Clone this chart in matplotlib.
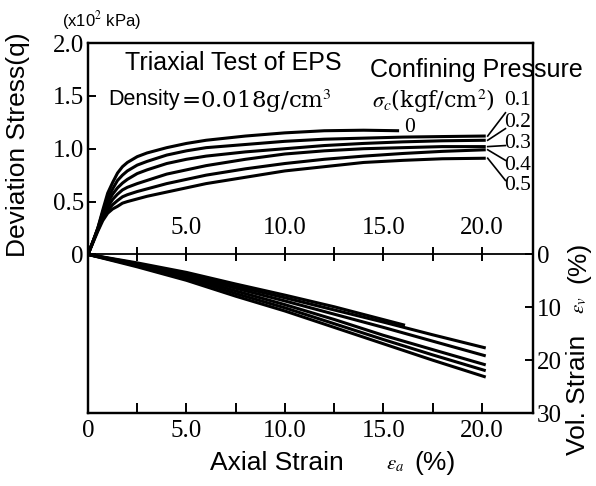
import matplotlib
matplotlib.use('Agg')
import matplotlib.pyplot as plt

plt.rcParams['mathtext.fontset'] = 'stix'
plt.rcParams['font.family'] = ['Liberation Serif', 'DejaVu Serif']

SANS = ['Liberation Sans', 'DejaVu Sans']
WIDE_SERIF = ['DejaVu Serif']
W, H = 596, 486

# confining pressure sigma_c (kgf/cm2), one curve each
pressures = ['0', '0.1', '0.2', '0.3', '0.4', '0.5']

# axial strain (%) vs deviation stress q (x10^2 kPa)
strain_q = [0, 0.25, 0.5, 0.75, 1.0, 1.25, 1.5, 1.75, 2.0, 2.5, 3.0, 4.0, 5.0, 6.0,
            8.0, 10.0, 12.0, 14.0, 16.0, 18.0, 20.2]
strain_q_00 = [0, 0.25, 0.5, 0.75, 1.0, 1.25, 1.5, 1.75, 2.0, 2.5, 3.0, 4.0, 5.0, 6.0,
               8.0, 10.0, 12.0, 14.0, 15.8]
q_00 = [0, 0.12, 0.25, 0.42, 0.58, 0.68, 0.77, 0.83, 0.87, 0.925, 0.96, 1.01, 1.05, 1.08,
        1.12, 1.15, 1.17, 1.175, 1.17]
q_01 = [0, 0.12, 0.25, 0.40, 0.53, 0.62, 0.70, 0.75, 0.79, 0.845, 0.88, 0.94, 0.98, 1.01,
        1.04, 1.07, 1.09, 1.10, 1.11, 1.115, 1.12]
q_02 = [0, 0.12, 0.24, 0.38, 0.49, 0.57, 0.63, 0.675, 0.71, 0.765, 0.80, 0.86, 0.90, 0.93,
        0.97, 1.00, 1.03, 1.05, 1.065, 1.075, 1.08]
q_03 = [0, 0.12, 0.24, 0.36, 0.45, 0.52, 0.57, 0.61, 0.635, 0.67, 0.70, 0.76, 0.80, 0.84,
        0.90, 0.95, 0.98, 1.00, 1.01, 1.02, 1.02]
q_04 = [0, 0.12, 0.23, 0.34, 0.42, 0.47, 0.51, 0.545, 0.565, 0.595, 0.62, 0.67, 0.71, 0.75,
        0.81, 0.86, 0.90, 0.93, 0.955, 0.975, 0.99]
q_05 = [0, 0.11, 0.22, 0.32, 0.39, 0.43, 0.455, 0.485, 0.50, 0.525, 0.55, 0.59, 0.63, 0.67,
        0.73, 0.79, 0.83, 0.87, 0.89, 0.905, 0.91]

# axial strain (%) vs volumetric strain ev (%)
strain_v = [0, 2.5, 5.0, 7.5, 10.0, 12.5, 15.0, 17.5, 20.2]
strain_v_00 = [0, 2.5, 5.0, 7.5, 10.0, 12.5, 16.1]
ev_00 = [0, 1.6, 3.4, 5.6, 7.7, 9.9, 13.4]
ev_01 = [0, 1.75, 3.7, 6.0, 8.2, 10.5, 12.8, 15.2, 17.7]
ev_02 = [0, 1.85, 3.9, 6.4, 8.8, 11.3, 13.8, 16.4, 19.2]
ev_03 = [0, 2.0, 4.2, 6.9, 9.5, 12.3, 15.3, 18.0, 20.9]
ev_04 = [0, 2.15, 4.5, 7.4, 10.1, 13.1, 16.1, 19.0, 22.0]
ev_05 = [0, 2.35, 4.9, 7.9, 10.7, 13.8, 16.9, 20.0, 23.2]

# label placement for the curve ends: (leader end q, label q)
label_q = [1.34, 1.19, 1.03, 0.89, 0.70]
label_text_q = [1.46, 1.25, 1.05, 0.84, 0.65]

x_ticks = [0, 5, 10, 15, 20]
x_ticklabels = ['0', '5.0', '10.0', '15.0', '20.0']
x_minor = [2.5, 7.5, 12.5, 17.5]
mid_ticks = [2.5, 5, 7.5, 10, 12.5, 15, 17.5, 20]
q_ticks = [0, 0.5, 1.0, 1.5, 2.0]
q_ticklabels = ['0', '0.5', '1.0', '1.5', '2.0']
ev_ticks = [0, 10, 20, 30]


def px(x, y):
    return x / W, 1 - y / H


fig = plt.figure(figsize=(W / 100, H / 100), dpi=100)
ax = fig.add_axes([88 / W, 1 - 413 / H, (533 - 88) / W, (413 - 43) / H])
ax2 = ax.twinx()

ax.set_xlim(0, 22.6)
ax.set_ylim(-1.5, 2.0)
ax2.set_ylim(30, -40)

lw = 2.2
q_curves = [(strain_q_00, q_00), (strain_q, q_01), (strain_q, q_02),
            (strain_q, q_03), (strain_q, q_04), (strain_q, q_05)]
for xs, ys in q_curves:
    ax.plot(xs, ys, color='black', lw=lw, solid_capstyle='butt', solid_joinstyle='round')

v_curves = [(strain_v_00, ev_00), (strain_v, ev_01), (strain_v, ev_02),
            (strain_v, ev_03), (strain_v, ev_04), (strain_v, ev_05)]
for xs, ys in v_curves:
    ax2.plot(xs, ys, color='black', lw=lw, solid_capstyle='butt')

# curve labels
ax.text(strain_q_00[-1] + 0.25, q_00[-1] + 0.03, pressures[0], fontsize=15.5,
        ha='left', va='center')
for (xs, ys), name, lq, tq in zip(q_curves[1:], pressures[1:], label_q, label_text_q):
    ax.plot([xs[-1] + 0.1, 21.2], [ys[-1], lq], color='black', lw=1.2)
    ax.text(21.15, tq, name, fontsize=15.5, ha='left', va='center')

# strain axis drawn through q = 0
ax.axhline(0, color='black', lw=1.3)
ax.plot(mid_ticks, [0] * len(mid_ticks), ls='none', marker='|', ms=10,
        mew=1.4, color='black')
for t, lab in zip(x_ticks[1:], x_ticklabels[1:]):
    ax.text(t, 0.25, lab, fontsize=18, ha='center', va='center')

ax.set_xticks(x_ticks)
ax.set_xticklabels(x_ticklabels)
ax.set_xticks(x_minor, minor=True)
ax.set_yticks(q_ticks)
ax.set_yticklabels(q_ticklabels)
ax2.set_yticks(ev_ticks)
ax2.set_yticklabels([str(v) for v in ev_ticks])

ax.tick_params(axis='x', which='both', direction='in', length=7, width=1.4,
               labelsize=18, pad=5)
ax.tick_params(axis='y', direction='in', length=6, width=1.4, labelsize=18, pad=3)
ax2.tick_params(axis='y', direction='in', length=6, width=1.4, labelsize=18, pad=3)
for a in (ax, ax2):
    for s in a.spines.values():
        s.set_linewidth(1.6)

# titles and axis captions
fig.text(*px(102, 21), '(x10$^2$ kPa)', fontsize=12, family=SANS, ha='center', va='center')
fig.text(*px(125, 63), 'Triaxial Test of EPS', fontsize=18, family=SANS, ha='left', va='center')
fig.text(*px(180, 100), 'Density', fontsize=15.5, family=SANS, ha='right', va='center')
fig.text(*px(181, 101), '=0.018g/cm$^3$', fontsize=16.5, family=WIDE_SERIF,
         ha='left', va='center')
fig.text(*px(370, 70), 'Confining Pressure', fontsize=18, family=SANS, ha='left', va='center')
fig.text(*px(372, 101), r'$\sigma_c$(kgf/cm$^2$)', fontsize=16, family=WIDE_SERIF,
         ha='left', va='center')

fig.text(*px(18, 145), 'Deviation Stress(q)', fontsize=19, family=SANS,
         rotation=90, ha='center', va='center')

fig.text(*px(210, 463), 'Axial Strain', fontsize=19, family=SANS, ha='left', va='center')
fig.text(*px(395, 465), r'$\varepsilon_a$', fontsize=15, ha='center', va='center')
fig.text(*px(435, 463), '(%)', fontsize=19, family=SANS, ha='center', va='center')

fig.text(*px(578, 455), 'Vol. Strain', fontsize=19, family=SANS, rotation=90,
         ha='center', va='bottom')
fig.text(*px(580, 305), r'$\varepsilon_v$', fontsize=15, rotation=90, ha='center', va='center')
fig.text(*px(578, 262), '(%)', fontsize=19, family=SANS, rotation=90, ha='center', va='center')

fig.savefig('out.png', dpi=100)
